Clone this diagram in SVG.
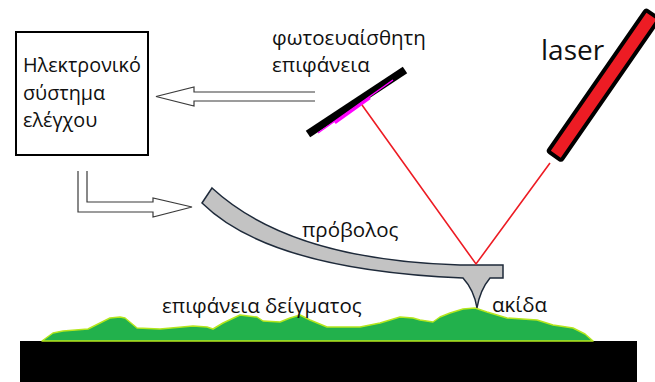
<svg xmlns="http://www.w3.org/2000/svg" width="655" height="382" viewBox="0 0 655 382">
  <style>
    .lbl { font-family: "Open Sans", "Noto Sans", sans-serif; font-size: 20.5px; fill: #101010; }
    .box { font-size: 19.8px; }
    .hollow { fill: none; stroke: #3a3a3a; stroke-width: 1.2; stroke-linejoin: miter; }
    .beam { stroke: #ed1c24; stroke-width: 1.6; fill: none; }
  </style>
  <rect width="655" height="382" fill="#ffffff"/>

  <!-- sample surface: substrate and rough green profile -->
  <g id="sample">
    <rect x="20" y="341" width="617" height="41" fill="#000000"/>
    <polygon fill="#22b14c" stroke="#b5e61d" stroke-width="1.5" stroke-linejoin="round"
      points="42,341 53,333 63,331 88,329 100,323 110,318 120,317 125,318 137,328 160,329 193,326 207,327 213,329 223,323 240,315 257,317 263,321 280,322 290,318 300,315 310,320 327,327 360,327 380,323 400,317 413,318 420,320 433,322 440,317 450,313 463,309 475,308 487,312 507,318 537,320 553,325 573,328 585,334 593,341"/>
    <text class="lbl" x="162" y="313">επιφάνεια δείγματος</text>
  </g>

  <!-- control electronics box -->
  <g id="controller">
    <rect x="16" y="32" width="132" height="123" fill="#ffffff" stroke="#000000" stroke-width="2"/>
    <text class="lbl box" x="23" y="72">Ηλεκτρονικό</text>
    <text class="lbl box" x="23" y="100">σύστημα</text>
    <text class="lbl box" x="23" y="127">ελέγχου</text>
  </g>

  <!-- photodetector -->
  <g id="photodetector">
    <line x1="308" y1="134" x2="405" y2="70" stroke="#000000" stroke-width="8"/>
    <line x1="318" y1="133" x2="393" y2="80" stroke="#ff00ff" stroke-width="1.5"/>
    <line x1="335" y1="123" x2="370" y2="98" stroke="#ff00ff" stroke-width="2.5"/>
    <text class="lbl" x="272" y="45">φωτοευαίσθητη</text>
    <text class="lbl" x="272" y="72">επιφάνεια</text>
  </g>

  <!-- laser source -->
  <g id="laser">
    <g transform="translate(553.5,157.5) rotate(-55.3)">
      <rect x="2" y="-8" width="172" height="16" rx="2" fill="#ed1c24" stroke="#000000" stroke-width="4"/>
    </g>
    <text class="lbl" x="541" y="60" style="font-size:28px">laser</text>
  </g>

  <!-- cantilever with tip -->
  <g id="cantilever">
    <path d="M212,188 Q290,260 460,265 L503,265 L503,278 L490,278 Q480,290 477,308 Q474,290 463,278 Q270,270 202,203 Z"
      fill="#c3c3c3" stroke="#1e2a3a" stroke-width="1.5" stroke-linejoin="miter"/>
    <text class="lbl" x="302" y="237">πρόβολος</text>
    <text class="lbl" x="492" y="312">ακίδα</text>
  </g>

  <!-- connectors: laser beam path and signal arrows -->
  <g id="connectors">
    <polyline class="beam" points="550,163 476,264 362,105"/>
    <path class="hollow" d="M315,92 L194,92 L194,87 L156,96.5 L194,106 L194,101 L315,101"/>
    <path class="hollow" d="M78,171 L78,212 L153,212 L153,217 L192,207 L153,198 L153,202 L87,202 L87,171"/>
  </g>
</svg>
